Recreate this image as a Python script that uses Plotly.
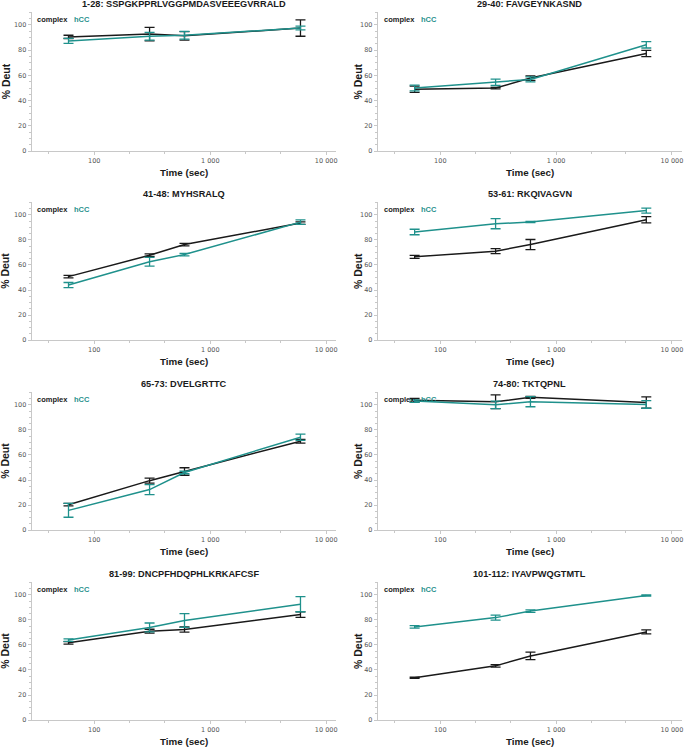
import plotly.graph_objects as go

# ---------------- data ----------------
TIMES = [60, 300, 600, 6000]
X_TICK_VALS = [100, 1000, 10000]
X_TICK_TEXT = ["100", "1 000", "10 000"]
Y_TICK_VALS = [0, 20, 40, 60, 80, 100]
SERIES_NAMES = ["complex", "hCC"]

TITLES = [
    "1-28: SSPGKPPRLVGGPMDASVEEEGVRRALD",
    "29-40: FAVGEYNKASND",
    "41-48: MYHSRALQ",
    "53-61: RKQIVAGVN",
    "65-73: DVELGRTTC",
    "74-80: TKTQPNL",
    "81-99: DNCPFHDQPHLKRKAFCSF",
    "101-112: IYAVPWQGTMTL",
]

P1_COMPLEX = [90.5, 92.7, 91.3, 97.5]
P1_COMPLEX_ERR = [1.3, 5.3, 3.3, 6.5]
P1_HCC = [87.3, 91.0, 91.8, 97.5]
P1_HCC_ERR = [2.0, 3.0, 3.0, 1.5]

P2_COMPLEX = [49.0, 50.0, 57.9, 77.3]
P2_COMPLEX_ERR = [2.5, 0.6, 1.8, 2.5]
P2_HCC = [50.0, 54.5, 56.8, 84.2]
P2_HCC_ERR = [2.3, 2.5, 2.0, 2.5]

P3_COMPLEX = [50.7, 67.8, 76.3, 93.4]
P3_COMPLEX_ERR = [1.0, 1.0, 1.0, 1.0]
P3_HCC = [44.0, 62.5, 68.3, 94.2]
P3_HCC_ERR = [2.0, 3.5, 1.0, 1.8]

P4_COMPLEX = [66.5, 71.0, 76.3, 96.0]
P4_COMPLEX_ERR = [1.2, 2.0, 4.0, 2.5]
P4_HCC = [86.3, 92.9, 94.2, 103.4]
P4_HCC_ERR = [2.2, 4.0, 0.5, 2.0]

P5_COMPLEX = [20.3, 39.5, 46.8, 71.0]
P5_COMPLEX_ERR = [1.0, 2.0, 3.0, 1.5]
P5_HCC = [15.8, 32.4, 46.0, 74.2]
P5_HCC_ERR = [5.5, 4.0, 1.0, 2.5]

P6_COMPLEX = [103.7, 102.5, 106.0, 101.8]
P6_COMPLEX_ERR = [1.5, 5.5, 0.8, 4.5]
P6_HCC = [103.0, 100.0, 102.5, 100.3]
P6_HCC_ERR = [1.0, 3.0, 4.0, 3.0]

P7_COMPLEX = [61.7, 71.0, 72.3, 84.2]
P7_COMPLEX_ERR = [1.0, 1.5, 2.0, 2.2]
P7_HCC = [63.9, 74.0, 79.5, 92.5]
P7_HCC_ERR = [1.0, 3.5, 5.5, 6.0]

P8_COMPLEX = [33.8, 43.3, 51.2, 70.4]
P8_COMPLEX_ERR = [0.5, 1.0, 3.0, 1.6]
P8_HCC = [74.4, 81.8, 87.0, 99.5]
P8_HCC_ERR = [1.0, 2.0, 1.0, 0.5]

COMPLEX_LIST = [P1_COMPLEX, P2_COMPLEX, P3_COMPLEX, P4_COMPLEX,
                P5_COMPLEX, P6_COMPLEX, P7_COMPLEX, P8_COMPLEX]
COMPLEX_ERR_LIST = [P1_COMPLEX_ERR, P2_COMPLEX_ERR, P3_COMPLEX_ERR, P4_COMPLEX_ERR,
                    P5_COMPLEX_ERR, P6_COMPLEX_ERR, P7_COMPLEX_ERR, P8_COMPLEX_ERR]
HCC_LIST = [P1_HCC, P2_HCC, P3_HCC, P4_HCC, P5_HCC, P6_HCC, P7_HCC, P8_HCC]
HCC_ERR_LIST = [P1_HCC_ERR, P2_HCC_ERR, P3_HCC_ERR, P4_HCC_ERR,
                P5_HCC_ERR, P6_HCC_ERR, P7_HCC_ERR, P8_HCC_ERR]

# ---------------- style ----------------
BLACK = "#1a1a1a"
TEAL = "#1f918c"
FONT = "Liberation Sans"
TICK_FONT = "DejaVu Sans"
W, H = 685, 751

X_DOMAINS = [[0.0462, 0.4915], [0.5523, 0.997]]
Y_DOMAINS = [[0.7976, 0.9836], [0.5446, 0.7292], [0.2903, 0.4748], [0.0360, 0.2205]]
YTITLE_SHIFT = [-26, -20]

fig = go.Figure()
layout = dict(
    width=W, height=H, autosize=False,
    margin=dict(l=0, r=0, t=0, b=0, pad=0),
    paper_bgcolor="white", plot_bgcolor="white",
    showlegend=False,
    font=dict(family=FONT, color=BLACK),
)
annotations = []

for i in range(8):
    row, col = divmod(i, 2)
    n = i + 1
    xa = "x" if n == 1 else f"x{n}"
    ya = "y" if n == 1 else f"y{n}"
    for vals, errs, color, name in [
        (COMPLEX_LIST[i], COMPLEX_ERR_LIST[i], BLACK, SERIES_NAMES[0]),
        (HCC_LIST[i], HCC_ERR_LIST[i], TEAL, SERIES_NAMES[1]),
    ]:
        fig.add_trace(go.Scatter(
            x=TIMES, y=vals, mode="lines", name=name,
            line=dict(color=color, width=1.5),
            error_y=dict(type="data", array=errs, visible=True,
                         color=color, thickness=1.3, width=5),
            xaxis=xa, yaxis=ya,
        ))
    axis_common = dict(
        showline=True, linecolor="#c8c8c8", linewidth=1,
        showgrid=False, zeroline=False,
        ticks="outside", ticklen=3, tickcolor="#c8c8c8", tickwidth=1,
        tickfont=dict(size=6.5, color="#555555", family=TICK_FONT),
    )
    layout["xaxis" if n == 1 else f"xaxis{n}"] = dict(
        axis_common,
        type="log", range=[1.46, 4.086],
        domain=X_DOMAINS[col], anchor=ya,
        tickvals=X_TICK_VALS, ticktext=X_TICK_TEXT,
        minor=dict(ticks="outside", ticklen=2, tickcolor="#c8c8c8",
                   tickvals=[40, 200, 400, 2000, 4000]),
    )
    layout["yaxis" if n == 1 else f"yaxis{n}"] = dict(
        axis_common,
        range=[0, 110],
        domain=Y_DOMAINS[row], anchor=xa,
        tickvals=Y_TICK_VALS,
        minor=dict(ticks="outside", ticklen=2, tickcolor="#c8c8c8", dtick=5),
    )
    xd = f"{xa} domain"
    yd = f"{ya} domain"
    # panel title
    annotations.append(dict(
        text=f"<b>{TITLES[i]}</b>", xref=xd, yref=yd, x=0.5, y=1,
        xanchor="center", yanchor="middle", yshift=8, showarrow=False,
        font=dict(size=9.2, color=BLACK, family=FONT),
    ))
    # axis titles
    annotations.append(dict(
        text="<b>Time (sec)</b>", xref=xd, yref=yd, x=0.5, y=0,
        xanchor="center", yanchor="middle", yshift=-21, showarrow=False,
        font=dict(size=9.8, color=BLACK, family=FONT),
    ))
    annotations.append(dict(
        text="<b>% Deut</b>", xref=xd, yref=yd, x=0, y=0.5, textangle=-90,
        xanchor="center", yanchor="middle", xshift=YTITLE_SHIFT[col],
        showarrow=False, font=dict(size=10.5, color=BLACK, family=FONT),
    ))
    # in-plot legend
    leg_x = [0.011, 0.132] if col == 0 else [0.0144, 0.134]
    annotations.append(dict(
        text=f"<b>{SERIES_NAMES[0]}</b>", xref=xd, yref=ya, x=leg_x[0], y=104.5,
        xanchor="left", yanchor="middle", showarrow=False,
        font=dict(size=7.5, color=BLACK, family=FONT),
    ))
    annotations.append(dict(
        text=f"<b>{SERIES_NAMES[1]}</b>", xref=xd, yref=ya, x=leg_x[1], y=104.5,
        xanchor="left", yanchor="middle", showarrow=False,
        font=dict(size=7.5, color=TEAL, family=FONT),
    ))

layout["annotations"] = annotations
fig.update_layout(**layout)
fig.write_html(
    "out.html",
    config={"displayModeBar": False},
    post_script="document.body.style.margin='0px';document.body.style.padding='0px';",
)
